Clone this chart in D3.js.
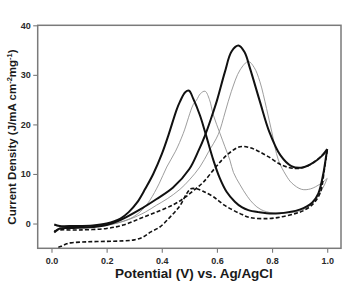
<!DOCTYPE html>
<html>
<head>
<meta charset="utf-8">
<script src="https://cdn.jsdelivr.net/npm/d3@7"></script>
<style>
	body { margin: 0; background: #fff; }
	text { font-family: "Liberation Sans", Arial, sans-serif; font-weight: bold; fill: #1a1a1a; }
</style>
</head>
<body>
<script>
// Axis ticks
var xTicks = [0.0, 0.2, 0.4, 0.6, 0.8, 1.0],
	xMinor = [0.1, 0.3, 0.5, 0.7, 0.9],
	yTicks = [0, 10, 20, 30, 40],
	yMinor = [-5, 5, 15, 25, 35];

// Potential (V) / current density pairs
// Thick solid CV
var thickFwd = [[0.01,-1.8],[0.03,-1.0],[0.08,-0.9],[0.15,-0.7],[0.2,-0.3],[0.25,0.7],[0.32,2.8],[0.38,4.9],[0.44,7.2],[0.5,11.0],[0.53,14.3],
	[0.557,17.8],[0.58,21.4],[0.6,24.8],[0.629,30.6],[0.653,34.7],[0.678,35.9],[0.70,34.6],[0.72,31.3],[0.756,24.6],[0.79,18.5],
	[0.83,13.8],[0.87,11.6],[0.91,11.3],[0.95,12.3],[0.98,13.6],[1.0,15.0]];
var thickRev = [[1.0,15.0],[0.993,12.5],[0.986,10.1],[0.968,6.1],[0.945,4.2],[0.90,2.8],[0.859,2.3],[0.80,2.0],[0.75,2.3],[0.714,2.7],
	[0.69,3.3],[0.665,4.4],[0.635,6.4],[0.61,9.2],[0.587,12.8],[0.557,18.5],[0.538,21.9],[0.514,25.2],[0.499,26.8],[0.485,26.5],
	[0.466,24.6],[0.454,23.0],[0.424,17.8],[0.40,14.0],[0.369,10.0],[0.34,7.0],[0.31,4.2],[0.28,2.3],[0.25,1.0],[0.2,0.0],
	[0.15,-0.4],[0.08,-0.5],[0.03,-0.5],[0.01,-0.2]];
// Thin grey CV
var greyFwd = [[0.01,-1.6],[0.03,-0.9],[0.1,-0.8],[0.2,-0.4],[0.28,0.8],[0.34,2.3],[0.381,3.7],[0.42,5.0],[0.466,6.9],[0.5,8.8],
	[0.538,11.4],[0.57,14.5],[0.605,18.0],[0.63,22.5],[0.652,26.6],[0.684,31.0],[0.714,32.7],[0.735,31.5],[0.756,28.6],[0.78,23.2],
	[0.799,18.5],[0.823,12.8],[0.85,9.8],[0.871,8.2],[0.907,6.9],[0.94,7.0],[0.975,8.0],[1.0,9.1]];
var greyRev = [[1.0,9.1],[0.99,7.8],[0.974,6.2],[0.95,4.3],[0.92,3.0],[0.87,2.2],[0.805,2.1],[0.76,2.8],[0.732,4.0],[0.71,5.5],
	[0.684,7.8],[0.66,10.3],[0.647,12.8],[0.629,15.5],[0.611,18.2],[0.587,21.9],[0.573,25.0],[0.557,26.7],[0.54,26.2],[0.526,24.9],
	[0.514,24.0],[0.478,18.2],[0.45,14.6],[0.418,11.4],[0.39,8.0],[0.357,4.7],[0.33,2.8],[0.296,1.3],[0.25,0.3],[0.2,-0.2],
	[0.1,-0.5],[0.03,-0.6],[0.01,-0.3]];
// Dashed CV
var dashFwd = [[0.01,-1.5],[0.03,-1.3],[0.1,-1.3],[0.2,-1.0],[0.26,-0.3],[0.321,1.0],[0.38,2.3],[0.442,3.8],[0.48,5.1],[0.514,6.6],
	[0.55,8.3],[0.599,11.6],[0.64,14.0],[0.684,15.5],[0.72,15.3],[0.75,14.6],[0.786,13.5],[0.835,11.8],[0.883,11.1],[0.92,11.4],
	[0.944,12.1],[0.975,13.4],[1.0,14.8]];
var dashRev = [[1.0,14.8],[0.99,11.0],[0.974,6.1],[0.944,3.7],[0.91,2.5],[0.883,2.0],[0.83,1.3],[0.786,1.0],[0.72,1.2],[0.684,2.0],
	[0.63,3.6],[0.587,5.4],[0.55,6.5],[0.527,7.0],[0.505,7.0],[0.49,6.0],[0.466,3.6],[0.43,1.3],[0.393,-0.7],[0.357,-1.8],
	[0.333,-2.7],[0.3,-3.3],[0.26,-3.5],[0.2,-3.6],[0.127,-3.7],[0.07,-3.9],[0.055,-4.1],[0.035,-4.6],[0.018,-5.0]];

function initialize() {
	var width = 345,
		height = 283;
	var left = 37.7, right = 341, top = 25.3, bottom = 248.3;

	var x = d3.scaleLinear().domain([-0.05, 1.05]).range([left, right]);
	var y = d3.scaleLinear().domain([-5, 40]).range([bottom, top]);

	var svg = d3.select("body").append("svg")
		.attr("width", width)
		.attr("height", height);

	var line = d3.line()
		.x(function(d) { return x(d[0]); })
		.y(function(d) { return y(d[1]); })
		.curve(d3.curveCatmullRom.alpha(0.5));

	// curves: grey first so the black ones sit on top
	var series = [
		{ data: greyFwd, stroke: "#929292", w: 0.9, dash: null },
		{ data: greyRev, stroke: "#929292", w: 0.9, dash: null },
		{ data: dashFwd, stroke: "#111", w: 1.6, dash: "4,2.2" },
		{ data: dashRev, stroke: "#111", w: 1.6, dash: "4,2.2" },
		{ data: thickFwd, stroke: "#111", w: 2.0, dash: null },
		{ data: thickRev, stroke: "#111", w: 2.0, dash: null }
	];
	svg.append("g").selectAll("path")
		.data(series)
		.enter().append("path")
			.attr("d", function(d) { return line(d.data); })
			.style("fill", "none")
			.style("stroke", function(d) { return d.stroke; })
			.style("stroke-width", function(d) { return d.w; })
			.style("stroke-dasharray", function(d) { return d.dash; })
			.style("stroke-linejoin", "round");

	// frame (top/right have no ticks)
	svg.append("rect")
		.attr("x", left).attr("y", top)
		.attr("width", right - left).attr("height", bottom - top)
		.style("fill", "none")
		.style("stroke", "#7a7a7a")
		.style("stroke-width", 1.5);

	// x axis
	var xAxis = svg.append("g").attr("transform", "translate(0," + bottom + ")");
	xAxis.call(d3.axisBottom(x).tickValues(xMinor).tickSize(2.5).tickFormat(""));
	xAxis.call(d3.axisBottom(x).tickValues(xTicks).tickSize(4.5).tickPadding(4.5).tickFormat(d3.format(".1f")));
	// y axis
	var yAxis = svg.append("g").attr("transform", "translate(" + left + ",0)");
	yAxis.call(d3.axisLeft(y).tickValues(yMinor).tickSize(2.5).tickFormat(""));
	yAxis.call(d3.axisLeft(y).tickValues(yTicks).tickSize(4.5).tickPadding(2.5));

	svg.selectAll(".domain").remove();
	svg.selectAll(".tick line").style("stroke", "#7a7a7a").style("stroke-width", 1.1);
	svg.selectAll(".tick text").style("font-size", "9px").style("font-family", null).style("fill", "#2a2a2a");

	// axis titles
	svg.append("text")
		.attr("x", 194).attr("y", 278)
		.attr("text-anchor", "middle")
		.style("font-size", "13.5px")
		.text("Potential (V) vs. Ag/AgCl");

	var yt = svg.append("text")
		.attr("transform", "translate(15.5,137) rotate(-90)")
		.attr("text-anchor", "middle")
		.style("font-size", "11.5px");
	yt.append("tspan").text("Current Density (J/mA cm");
	yt.append("tspan").attr("dy", -4).style("font-size", "7.5px").text("-2");
	yt.append("tspan").attr("dy", 4).text("mg");
	yt.append("tspan").attr("dy", -4).style("font-size", "7.5px").text("-1");
	yt.append("tspan").attr("dy", 4).text(")");
}
initialize();
</script>
</body>
</html>
